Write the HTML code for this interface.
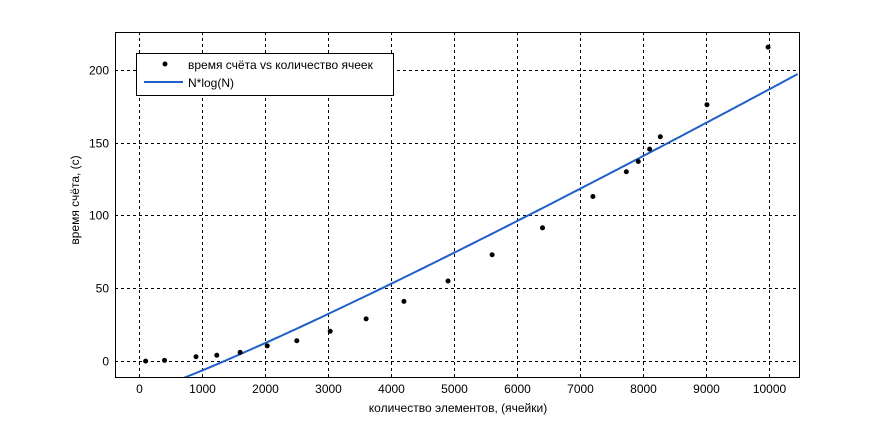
<!DOCTYPE html>
<html><head><meta charset="utf-8"><style>
body{margin:0;background:#fff;}
svg{display:block;font-family:"Liberation Sans",Arial,sans-serif;}
</style></head><body>
<svg id="chart" width="884" height="424" xmlns="http://www.w3.org/2000/svg">
<rect width="884" height="424" fill="#fff"/>
<g id="grid"></g>
<g id="series"></g>
<rect x="115.5" y="32.5" width="684" height="345" fill="none" stroke="#000" stroke-width="1"/>
<g id="ticks"></g>
<text x="458" y="412" font-size="12" text-anchor="middle" fill="#000">количество элементов, (ячейки)</text>
<text transform="translate(79,200) rotate(-90)" font-size="12" text-anchor="middle" fill="#000">время счёта, (с)</text>
<g>
<rect x="136.5" y="53.5" width="257" height="42" fill="#fff" stroke="#000"/>
<circle cx="165" cy="64" r="2.5" fill="#000"/>
<text x="188" y="69" font-size="12">время счёта vs количество ячеек</text>
<line x1="144" y1="82" x2="183" y2="82" stroke="#1f5fc8" stroke-width="2"/>
<text x="188" y="87" font-size="12">N*log(N)</text>
</g>
</svg>
<script>
const xTicks=[0,1000,2000,3000,4000,5000,6000,7000,8000,9000,10000];
const yTicks=[0,50,100,150,200];
const pointsN=[100,400,900,1230,1600,2030,2500,3030,3600,4200,4900,5600,6400,7200,7730,7920,8100,8270,9010,9980];
const pointsT=[0,0.5,3,4,6,10.5,14,20.5,29,41,55,73,91.5,113,130,137,145.5,154,176,215.5];
const fitA=0.002265, fitB=-22.0;
const X0=115,X1=799,Y0=32,Y1=377;
const xmin=-386,xmax=10471,ymin=-10.9,ymax=225.9;
const sx=v=>X0+(v-xmin)/(xmax-xmin)*(X1-X0);
const sy=v=>Y1-(v-ymin)/(ymax-ymin)*(Y1-Y0);
const NS='http://www.w3.org/2000/svg';
function mk(t,a,p){const e=document.createElementNS(NS,t);for(const k in a)e.setAttribute(k,a[k]);p.appendChild(e);return e;}
const grid=document.getElementById('grid'),ticks=document.getElementById('ticks'),ser=document.getElementById('series');
xTicks.forEach(v=>{const x=Math.round(sx(v))+0.5;
const g=mk('line',{x1:x,x2:x,y1:Y0,y2:Y1,stroke:'#000','stroke-dasharray':'3,3'},grid);

const t=mk('text',{x:x,y:Y1+16,'font-size':12,'text-anchor':'middle'},ticks);t.textContent=v;
});
yTicks.forEach(v=>{const y=Math.round(sy(v))+0.5;
const g=mk('line',{x1:X0,x2:X1,y1:y,y2:y,stroke:'#000','stroke-dasharray':'3,3'},grid);

const t=mk('text',{x:X0-6,y:y+4,'font-size':12,'text-anchor':'end'},ticks);t.textContent=v;
});
const cp=mk('clipPath',{id:'clip'},ser);mk('rect',{x:X0,y:Y0,width:X1-X0,height:Y1-Y0},cp);
let pts=[];for(let n=200;n<=xmax;n+=50){pts.push(sx(n).toFixed(1)+','+sy(fitA*n*Math.log(n)+fitB).toFixed(1));}
const pl=mk('polyline',{points:pts.join(' '),fill:'none',stroke:'#1f5fc8','stroke-width':2,'clip-path':'url(#clip)'},ser);

pointsN.forEach((n,i)=>{const c=mk('circle',{cx:sx(n),cy:sy(pointsT[i]),r:2.5,fill:'#000'},ser);
});
</script>
</body></html>
